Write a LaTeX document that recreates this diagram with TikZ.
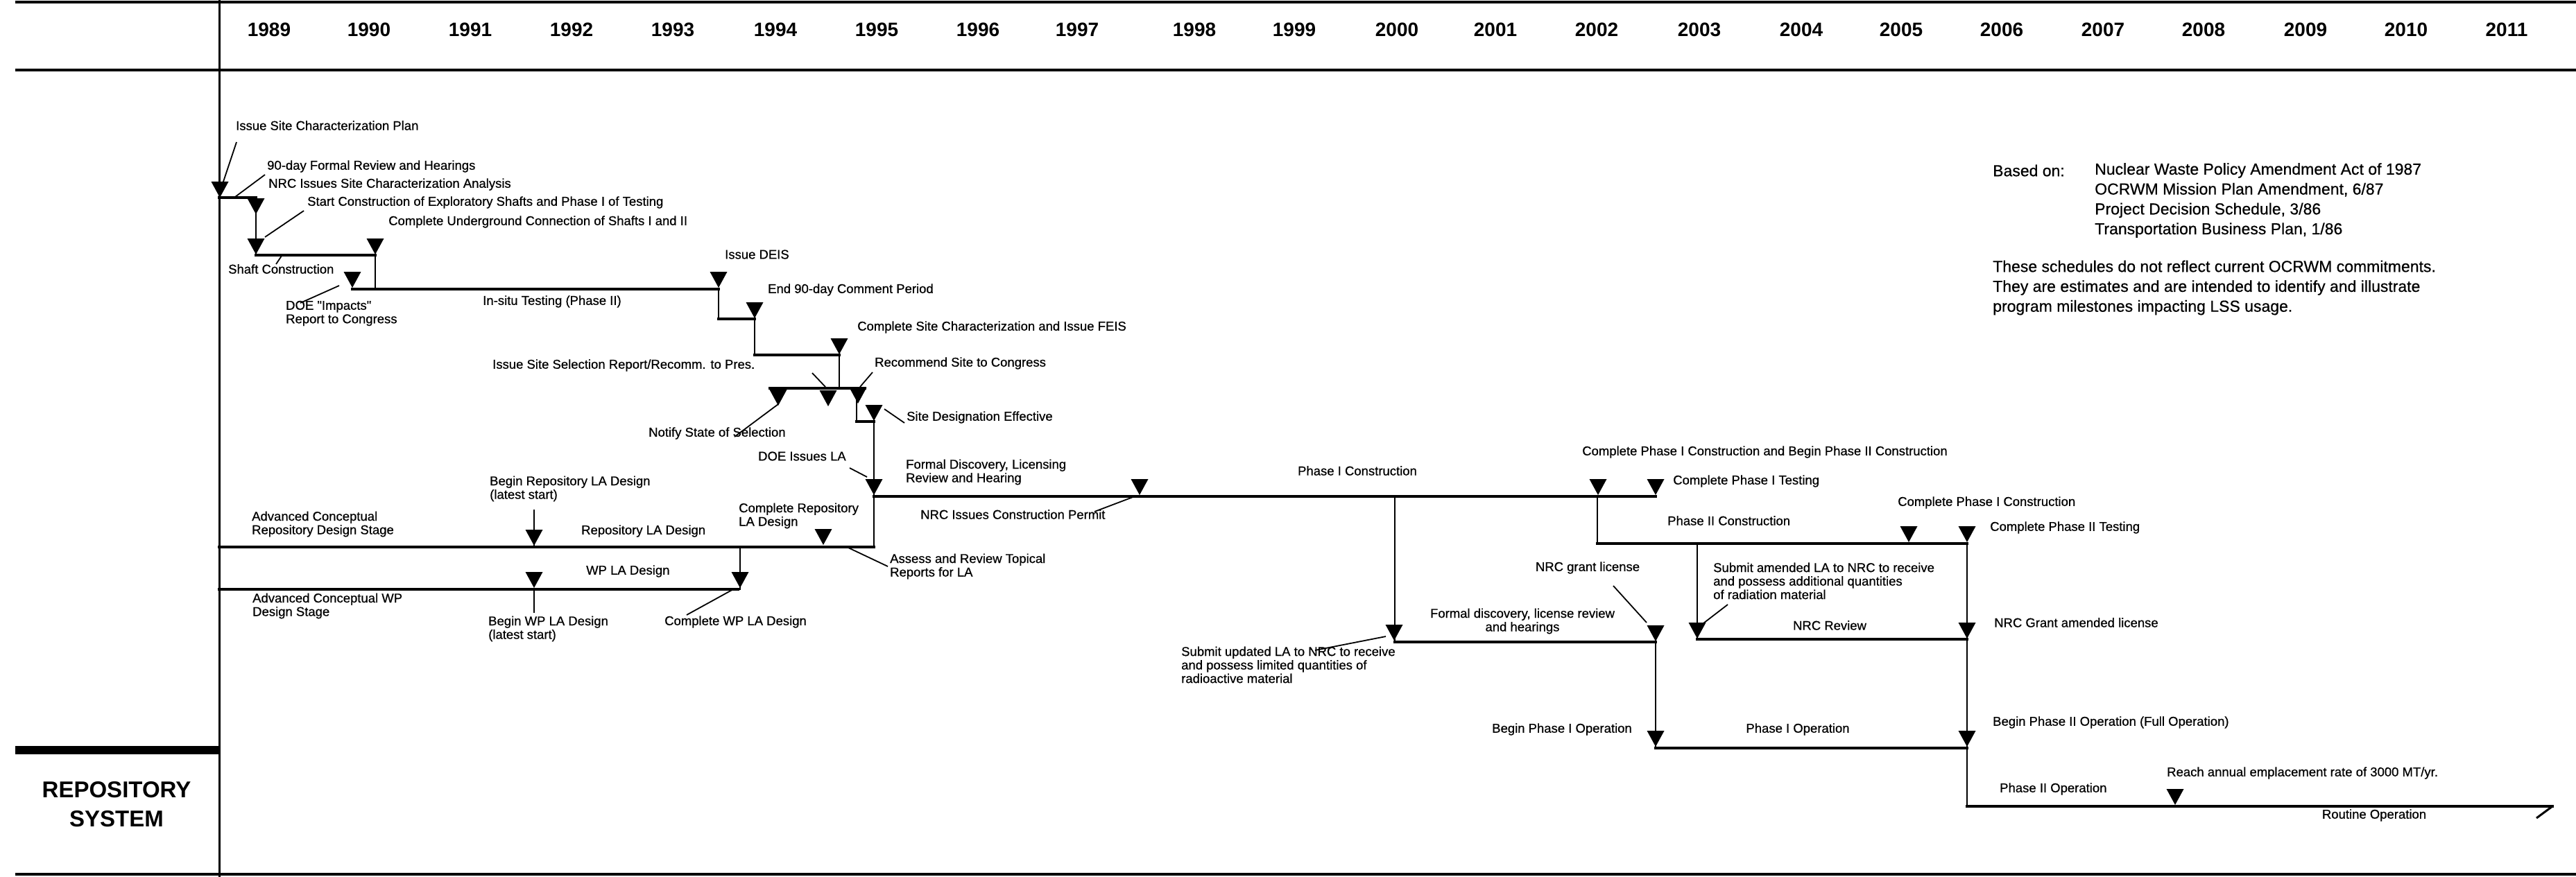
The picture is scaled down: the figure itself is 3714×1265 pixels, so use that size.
\documentclass[tikz,border=0pt]{standalone}
\usepackage{fontspec}
\setmainfont{Liberation Sans}
\newfontfamily\heavyfam[FakeBold=0.6]{Liberation Sans}
\newcommand\lblfont{\heavyfam\fontsize{18.5}{19.5}\selectfont}
\newcommand\yrfont{\fontsize{28}{30}\selectfont\bfseries}
\newcommand\notefont{\heavyfam\fontsize{23}{28.7}\selectfont}
\newcommand\sysfont{\fontsize{33}{40}\selectfont\bfseries}
\tikzset{
  frameline/.style={line width=4.5pt},
  divline/.style={line width=3pt},
  hl/.style={line width=4pt, line cap=rect},
  vl/.style={line width=2.8pt, line cap=rect},
  leader/.style={line width=1.8pt},
  lbl/.style={font=\lblfont, inner sep=0pt, align=left, anchor=west},
  clbl/.style={font=\lblfont, inner sep=0pt, align=center},
  yr/.style={font=\yrfont, inner sep=0pt},
  note/.style={font=\notefont, inner sep=0pt, align=left, anchor=west},
}
\newcommand\mstone[2]{\coordinate (#1) at (#2); \fill (#1) -- ++(-12.5,-23) -- ++(25,0) -- cycle;}
\begin{document}
\begin{tikzpicture}[x=1pt,y=-1pt]
\fill[white] (0,0) rectangle (3714,1265);
\useasboundingbox (0,0) rectangle (3714,1265);

% ---------- frame ----------
\coordinate (ftl) at (22,3);   \coordinate (ftr) at (3714,3);
\coordinate (fyl) at (22,101); \coordinate (fyr) at (3714,101);
\coordinate (fbl) at (22,1261); \coordinate (fbr) at (3714,1261);
\coordinate (dvt) at (316,0);  \coordinate (dvb) at (316,1265);
\coordinate (barl) at (22,1082); \coordinate (barr) at (316,1082);
\draw[frameline] (ftl) -- (ftr);
\draw[frameline] (fyl) -- (fyr);
\draw[line width=4pt] (fbl) -- (fbr);
\draw[divline] (dvt) -- (dvb);
\draw[line width=12pt] (barl) -- (barr);
\node[font=\sysfont, align=center, inner sep=0pt] (sys) at (168,1160) {REPOSITORY\\[2pt]SYSTEM};

% ---------- years ----------
\foreach \yy/\xx in {1989/388,1990/532,1991/678,1992/824,1993/970,1994/1118,1995/1264,1996/1410,1997/1553,1998/1722,1999/1866,2000/2014,2001/2156,2002/2302,2003/2450,2004/2597,2005/2741,2006/2886,2007/3032,2008/3177,2009/3324,2010/3469,2011/3614}
  \node[yr] (y\yy) at (\xx,43) {\yy};

% ---------- notes ----------
\node[note] (n1) at (2873,246) {Based on:};
\node[note] (n2) at (3020,289) {Nuclear Waste Policy Amendment Act of 1987\\OCRWM Mission Plan Amendment, 6/87\\Project Decision Schedule, 3/86\\Transportation Business Plan, 1/86};
\node[note] (n3) at (2873,415) {These schedules do not reflect current OCRWM commitments.\\They are estimates and are intended to identify and illustrate\\program milestones impacting LSS usage.};

% ---------- path corners ----------
\coordinate (a0) at (316,285);
\coordinate (a1) at (369,285);
\coordinate (a2) at (369,368);
\coordinate (a3) at (541,368);
\coordinate (a4) at (541,417);
\coordinate (a4l) at (508,417);
\coordinate (a5t) at (1036,417);
\coordinate (a5) at (1036,460);
\coordinate (a6t) at (1088,460);
\coordinate (a6) at (1088,512);
\coordinate (a7t) at (1210,512);
\coordinate (a7) at (1210,560);
\coordinate (a8l) at (1110,560);
\coordinate (a8r) at (1247,560);
\coordinate (a9) at (1235,560);
\coordinate (a9b) at (1235,608);
\coordinate (a9c) at (1260,608);
\coordinate (a10t) at (1260,716);
\coordinate (a10) at (1260,789);
\coordinate (m1) at (2387,716);
\coordinate (b1) at (2011,716);
\coordinate (b2) at (2011,926);
\coordinate (b3) at (2387,926);
\coordinate (b4) at (2387,1079);
\coordinate (b5) at (2836,1079);
\coordinate (c0) at (2303,716);
\coordinate (c1) at (2303,784);
\coordinate (c2) at (2836,784);
\coordinate (d0) at (2447,784);
\coordinate (d1) at (2447,922);
\coordinate (d2) at (2836,922);
\coordinate (e1) at (2836,1163);
\coordinate (e2) at (3680,1163);
\coordinate (e3) at (3657,1180);
\coordinate (r0) at (316,789);
\coordinate (r1) at (1067,789);
\coordinate (r2) at (1067,850);
\coordinate (w0) at (316,850);
\coordinate (w1) at (1064,850);
\coordinate (w2) at (770,850);
\coordinate (w3) at (770,883);

\draw[hl] (a0) -- (a1);
\draw[vl] (a1) -- (a2);
\draw[hl] (a2) -- (a3);
\draw[vl] (a3) -- (a4);
\draw[hl] (a4l) -- (a5t);
\draw[vl] (a5t) -- (a5);
\draw[hl] (a5) -- (a6t);
\draw[vl] (a6t) -- (a6);
\draw[hl] (a6) -- (a7t);
\draw[vl] (a7t) -- (a7);
\draw[hl] (a8l) -- (a8r);
\draw[vl] (a9) -- (a9b);
\draw[hl] (a9b) -- (a9c);
\draw[vl] (a9c) -- (a10);
\draw[hl] (a10t) -- (m1);
\draw[vl] (b1) -- (b2);
\draw[hl] (b2) -- (b3);
\draw[vl] (b3) -- (b4);
\draw[hl] (b4) -- (b5);
\draw[vl] (c0) -- (c1);
\draw[hl] (c1) -- (c2);
\draw[vl] (d0) -- (d1);
\draw[hl] (d1) -- (d2);
\draw[vl] (c2) -- (e1);
\draw[hl] (e1) -- (e2);
\draw[line width=3pt] (e2) -- (e3);
\draw[hl] (r0) -- (a10);
\draw[vl] (r1) -- (r2);
\draw[hl] (w0) -- (w1);
\draw[vl] (w2) -- (w3);

% ---------- milestones ----------
\mstone{t1}{317,285}
\mstone{t2}{369,309}
\mstone{t3}{369,367}
\mstone{t4}{541,367}
\mstone{t5}{508,415}
\mstone{tdeis}{1036,415}
\mstone{tend}{1088,459}
\mstone{tfeis}{1210,511}
\mstone{tnot}{1122,585}
\mstone{tiss}{1194,586}
\mstone{trec}{1237,582}
\mstone{tsde}{1260,607}
\mstone{tla}{1260,714}
\mstone{tcp}{1643,714}
\mstone{tc1}{2304,714}
\mstone{tc1t}{2387,714}
\mstone{tsub}{2010,924}
\mstone{tgl}{2387,925}
\mstone{tsam}{2447,921}
\mstone{tbp1}{2387,1077}
\mstone{tc1c}{2752,782}
\mstone{tc2t}{2836,782}
\mstone{tgal}{2836,921}
\mstone{tbp2}{2836,1077}
\mstone{trate}{3136,1161}
\mstone{tbr}{770,787}
\mstone{tcr}{1187,786}
\mstone{tcw}{1067,848}
\mstone{tbw}{770,848}

% ---------- labels ----------
\node[lbl] (l1) at (340,181) {Issue Site Characterization Plan};
\node[lbl] (l2) at (385,240) {90-day Formal Review and Hearings};
\node[lbl] (l3) at (387,266) {NRC Issues Site Characterization Analysis};
\node[lbl] (l4) at (443,292) {Start Construction of Exploratory Shafts and Phase I of Testing};
\node[lbl] (l5) at (560,320) {Complete Underground Connection of Shafts I and II};
\node[lbl] (l6) at (329,388) {Shaft Construction};
\node[lbl] (l7) at (412,452) {DOE "Impacts"\\Report to Congress};
\node[clbl] (l8) at (796,435) {In-situ Testing (Phase II)};
\node[lbl] (l9) at (1045,367) {Issue DEIS};
\node[lbl] (l10) at (1107,418) {End 90-day Comment Period};
\node[lbl] (l11) at (1236,472) {Complete Site Characterization and Issue FEIS};
\node[lbl] (l12) at (710,527) {Issue Site Selection Report/Recomm. to Pres.};
\node[lbl] (l13) at (1261,524) {Recommend Site to Congress};
\node[lbl] (l14) at (935,625) {Notify State of Selection};
\node[lbl] (l15) at (1307,602) {Site Designation Effective};
\node[lbl] (l16) at (1093,658) {DOE Issues LA};
\node[lbl] (l17) at (1306,681) {Formal Discovery, Licensing\\Review and Hearing};
\node[lbl] (l18) at (1327,742) {NRC Issues Construction Permit};
\node[clbl] (l19) at (1957,679) {Phase I Construction};
\node[lbl] (l20) at (2281,652) {Complete Phase I Construction and Begin Phase II Construction};
\node[lbl] (l21) at (2412,694) {Complete Phase I Testing};
\node[lbl] (l22) at (2404,751) {Phase II Construction};
\node[lbl] (l23) at (2736,725) {Complete Phase I Construction};
\node[lbl] (l24) at (2869,761) {Complete Phase II Testing};
\node[clbl] (l25) at (2289,819) {NRC grant license};
\node[lbl] (l26) at (2470,838) {Submit amended LA to NRC to receive\\and possess additional quantities\\of radiation material};
\node[clbl] (l27) at (2195,896) {Formal discovery, license review\\and hearings};
\node[clbl] (l28) at (2638,902) {NRC Review};
\node[lbl] (l29) at (2875,898) {NRC Grant amended license};
\node[lbl] (l30) at (1703,959) {Submit updated LA to NRC to receive\\and possess limited quantities of\\radioactive material};
\node[lbl, anchor=east] (l31) at (2353,1052) {Begin Phase I Operation};
\node[clbl] (l32) at (2592,1052) {Phase I Operation};
\node[lbl] (l33) at (2873,1042) {Begin Phase II Operation (Full Operation)};
\node[lbl] (l34) at (3124,1115) {Reach annual emplacement rate of 3000 MT/yr.};
\node[lbl] (l35) at (2883,1138) {Phase II Operation};
\node[clbl] (l36) at (3423,1176) {Routine Operation};
\node[lbl] (l37) at (363,756) {Advanced Conceptual\\Repository Design Stage};
\node[lbl] (l38) at (706,705) {Begin Repository LA Design\\(latest start)};
\node[lbl] (l39) at (838,766) {Repository LA Design};
\node[lbl] (l40) at (1065,744) {Complete Repository\\LA Design};
\node[lbl] (l41) at (1283,817) {Assess and Review Topical\\Reports for LA};
\node[lbl] (l42) at (845,824) {WP LA Design};
\node[lbl] (l43) at (364,874) {Advanced Conceptual WP\\Design Stage};
\node[lbl] (l44) at (704,907) {Begin WP LA Design\\(latest start)};
\node[lbl] (l45) at (958,897) {Complete WP LA Design};

% ---------- leaders ----------
\coordinate (k1a) at (341,205);  \coordinate (k1b) at (321,265);
\coordinate (k2a) at (382,252);  \coordinate (k2b) at (339,284);
\coordinate (k4a) at (438,304);  \coordinate (k4b) at (382,342);
\coordinate (k6a) at (398,381);  \coordinate (k6b) at (406,369);
\coordinate (k7a) at (433,437);  \coordinate (k7b) at (489,412);
\coordinate (k12a) at (1171,538); \coordinate (k12b) at (1190,558);
\coordinate (k13a) at (1258,537); \coordinate (k13b) at (1240,558);
\coordinate (k14a) at (1059,630); \coordinate (k14b) at (1122,583);
\coordinate (k15a) at (1275,590); \coordinate (k15b) at (1304,610);
\coordinate (k16a) at (1225,675); \coordinate (k16b) at (1250,688);
\coordinate (k18a) at (1578,738); \coordinate (k18b) at (1636,716);
\coordinate (k25a) at (2326,845); \coordinate (k25b) at (2374,898);
\coordinate (k26a) at (2491,872); \coordinate (k26b) at (2452,902);
\coordinate (k30a) at (1896,938); \coordinate (k30b) at (1998,918);
\coordinate (k41a) at (1223,790); \coordinate (k41b) at (1280,817);
\coordinate (k45a) at (990,887);  \coordinate (k45b) at (1059,849);
\coordinate (k38a) at (770,735);
\draw[leader] (k1a) -- (k1b);
\draw[leader] (k2a) -- (k2b);
\draw[leader] (k4a) -- (k4b);
\draw[leader] (k6a) -- (k6b);
\draw[leader] (k7a) -- (k7b);
\draw[leader] (k12a) -- (k12b);
\draw[leader] (k13a) -- (k13b);
\draw[leader] (k14a) -- (k14b);
\draw[leader] (k15a) -- (k15b);
\draw[leader] (k16a) -- (k16b);
\draw[leader] (k18a) -- (k18b);
\draw[leader] (k25a) -- (k25b);
\draw[leader] (k26a) -- (k26b);
\draw[leader] (k30a) -- (k30b);
\draw[leader] (k41a) -- (k41b);
\draw[leader] (k45a) -- (k45b);
\draw[leader] (k38a) -- (tbr);
\end{tikzpicture}
\end{document}
